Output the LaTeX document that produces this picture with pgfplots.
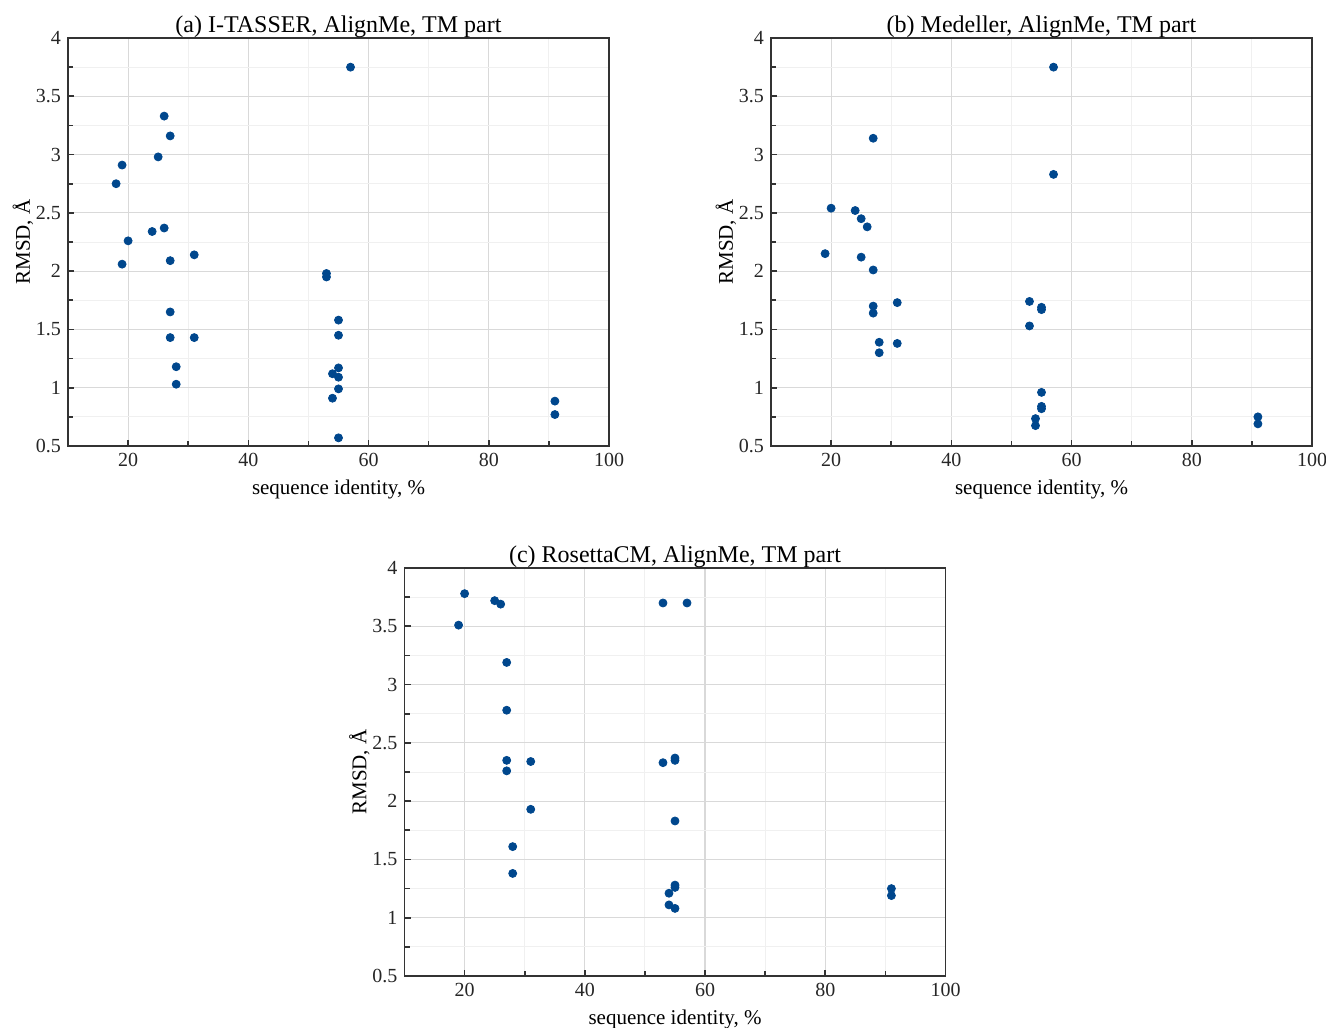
\documentclass[border=0pt]{standalone}
\usepackage{fontspec}
\setmainfont{Liberation Serif}
\usepackage{pgfplots}
\pgfplotsset{compat=1.18}

\definecolor{dotblue}{RGB}{0,71,141}
\definecolor{axgray}{RGB}{51,51,51}

\pgfplotsset{
  rmsdpanel/.style={
    width=270.5pt, height=204pt, scale only axis,
    xmin=10, xmax=100, ymin=0.5, ymax=4,
    xtick={20,40,...,100}, ytick={0.5,1,...,4},
    minor x tick num=1, minor y tick num=1,
    grid=both,
    major grid style={draw=black!15, line width=0.6pt},
    minor grid style={draw=black!6, line width=0.5pt},
    axis line style={draw=axgray, line width=0.9pt},
    tick style={draw=axgray, line width=0.8pt},
    major tick length=3pt, minor tick length=2.5pt,
    tick align=inside, tick pos=left,
    tick label style={font=\fontsize{10}{11}\selectfont, text=black!85},
    label style={font=\fontsize{10.5}{12}\selectfont},
    ylabel style={yshift=-5.5pt},
    title style={font=\fontsize{12}{14}\selectfont, yshift=-9.5pt},
    xlabel={sequence identity, \%},
    ylabel={RMSD, Å},
    /pgf/number format/assume math mode=true,
    anchor=south west,
  },
  dots/.style={only marks, mark=*, mark size=2pt, color=dotblue,
    mark options={draw=dotblue, fill=dotblue}},
}

\begin{document}
\begin{tikzpicture}
\useasboundingbox (0,0) rectangle (663pt,-513.5pt);

% (a)
\begin{axis}[rmsdpanel, at={(34pt,-223pt)}, title={(a) I-TASSER, AlignMe, TM part}]
\addplot[dots] coordinates {
(18,2.75) (19,2.91) (19,2.06) (20,2.26)
(24,2.34) (25,2.98) (26,3.33) (26,2.37)
(27,3.16) (27,2.09) (27,1.65) (27,1.43)
(28,1.18) (28,1.03) (31,2.14) (31,1.43)
(53,1.98) (53,1.95) (57,3.75)
(55,1.58) (55,1.45) (55,1.17) (54,1.12) (55,1.09)
(55,0.99) (54,0.91) (55,0.57)
(91,0.885) (91,0.77)
};
\end{axis}

% (b)
\begin{axis}[rmsdpanel, at={(385.5pt,-223pt)}, title={(b) Medeller, AlignMe, TM part}]
\addplot[dots] coordinates {
(19,2.15) (20,2.54) (24,2.52) (25,2.45) (25,2.12)
(26,2.38) (27,3.14) (27,2.01) (27,1.70) (27,1.64)
(28,1.39) (28,1.30) (31,1.73) (31,1.38)
(53,1.74) (53,1.53) (55,1.69) (55,1.67)
(57,3.75) (57,2.83)
(55,0.96) (55,0.84) (55,0.82) (54,0.735) (54,0.675)
(91,0.75) (91,0.69)
};
\end{axis}

% (c)
\begin{axis}[rmsdpanel, at={(202.25pt,-488pt)}, title={(c) RosettaCM, AlignMe, TM part}]
\addplot[dots] coordinates {
(19,3.51) (20,3.78) (25,3.72) (26,3.69)
(27,3.19) (27,2.78) (27,2.35) (27,2.26)
(28,1.61) (28,1.38) (31,2.34) (31,1.93)
(53,3.70) (57,3.70) (53,2.33) (55,2.37) (55,2.35)
(55,1.83) (55,1.28) (55,1.26) (54,1.21) (54,1.11) (55,1.08)
(91,1.25) (91,1.19)
};
\end{axis}
\end{tikzpicture}
\end{document}
